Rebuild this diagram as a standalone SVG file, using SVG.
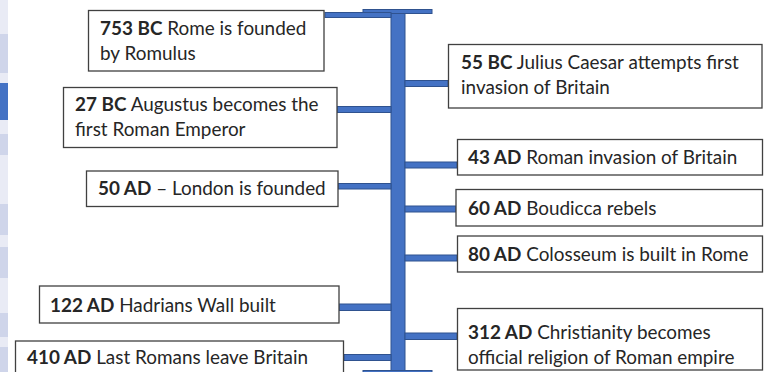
<svg xmlns="http://www.w3.org/2000/svg" width="764" height="372" viewBox="0 0 764 372">
<style>
.box{fill:#fff;stroke:#404040;stroke-width:1.3}
.bar{fill:#4472c4;stroke:#2f528f;stroke-width:1}
text{font-family:Lato,"Liberation Sans",sans-serif;font-size:18.9px;fill:#262626}
.b{font-weight:bold}
.sl{fill:#e9ebf5}.sd{fill:#cfd5ea}.sb{fill:#4472c4}
</style>
<rect x="0" y="0" width="764" height="372" fill="#fff"/>
<g id="strip">
<rect class="sl" x="0" y="0" width="8" height="372"/>
<rect class="sd" x="0" y="34" width="8" height="39"/>
<rect class="sb" x="0" y="83" width="8" height="37"/>
<rect class="sd" x="0" y="134" width="8" height="21"/>
<rect class="sd" x="0" y="204" width="8" height="31"/>
<rect class="sd" x="0" y="247" width="8" height="31"/>
<rect class="sd" x="0" y="313" width="8" height="24"/>
<rect class="sd" x="0" y="347" width="8" height="25"/>
</g>
<g id="connectors">
<rect class="bar" x="391" y="13" width="14" height="362"/>
<rect class="bar" x="363" y="9.5" width="69" height="4"/>
<rect class="bar" x="363" y="370.5" width="69" height="4"/>
<rect class="bar" x="325" y="12.5" width="66" height="5"/>
<rect class="bar" x="405" y="80.5" width="43" height="6"/>
<rect class="bar" x="337" y="106.5" width="54" height="6"/>
<rect class="bar" x="405" y="162" width="52" height="6"/>
<rect class="bar" x="338" y="183.5" width="53" height="5.5"/>
<rect class="bar" x="405" y="206" width="51" height="6"/>
<rect class="bar" x="405" y="255" width="52" height="6"/>
<rect class="bar" x="339" y="304" width="52" height="6.5"/>
<rect class="bar" x="405" y="333" width="52" height="6.5"/>
<rect class="bar" x="344" y="354.5" width="47" height="6"/>
</g>
<g id="n753bc"><rect class="box" x="88.5" y="10.5" width="235.5" height="60.5"/>
<text x="100" y="35"><tspan class="b">753 BC</tspan> Rome is founded</text><text x="100" y="60">by Romulus</text></g>
<g id="n55bc"><rect class="box" x="448.5" y="44.5" width="313.5" height="63.5"/>
<text x="461" y="69"><tspan class="b">55 BC</tspan> Julius Caesar attempts first</text><text x="461" y="94">invasion of Britain</text></g>
<g id="n27bc"><rect class="box" x="63.5" y="87.5" width="273.5" height="60"/>
<text x="75" y="111"><tspan class="b">27 BC</tspan> Augustus becomes the</text><text x="75" y="136">first Roman Emperor</text></g>
<g id="n43ad"><rect class="box" x="457.5" y="139.5" width="305" height="35.5"/>
<text x="468" y="164"><tspan class="b">43 AD</tspan> Roman invasion of Britain</text></g>
<g id="n50ad"><rect class="box" x="86.5" y="171" width="251.5" height="35.5"/>
<text x="98" y="195"><tspan class="b">50 AD</tspan> – London is founded</text></g>
<g id="n60ad"><rect class="box" x="456" y="189.5" width="306.5" height="36.5"/>
<text x="468" y="215"><tspan class="b">60 AD</tspan> Boudicca rebels</text></g>
<g id="n80ad"><rect class="box" x="457.5" y="236" width="305" height="36"/>
<text x="468" y="261"><tspan class="b">80 AD</tspan> Colosseum is built in Rome</text></g>
<g id="n122ad"><rect class="box" x="39.5" y="286" width="299.5" height="37"/>
<text x="50" y="312"><tspan class="b">122 AD</tspan> Hadrians Wall built</text></g>
<g id="n312ad"><rect class="box" x="457.5" y="308.5" width="305" height="61.5"/>
<text x="468" y="339"><tspan class="b">312 AD</tspan> Christianity becomes</text><text x="468" y="364">official religion of Roman empire</text></g>
<g id="n410ad"><rect class="box" x="15.5" y="341" width="328" height="40"/>
<text x="27" y="364"><tspan class="b">410 AD</tspan> Last Romans leave Britain</text></g>
</svg>
